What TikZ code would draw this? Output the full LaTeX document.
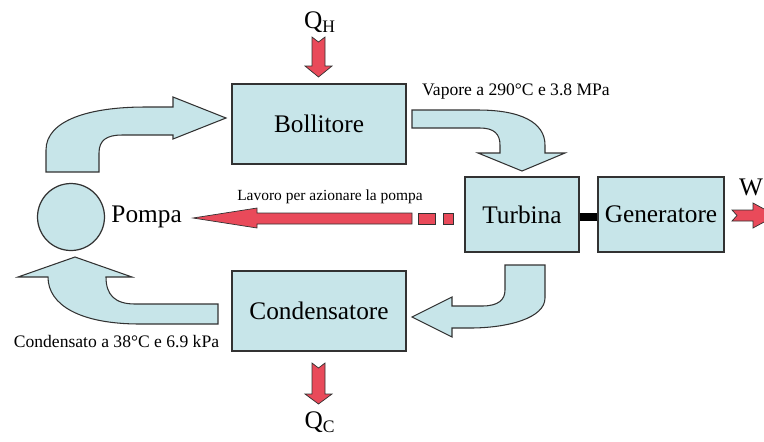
\documentclass[tikz,border=0pt]{standalone}
\usepackage{fontspec}
\setmainfont{Liberation Serif}
\usepackage{xcolor}
\usetikzlibrary{positioning, calc}
\definecolor{CycleBlue}{RGB}{199,229,233}
\definecolor{CycleRed}{RGB}{233,74,90}
\definecolor{CycleEdge}{RGB}{50,50,50}
\tikzset{
    % Node styles
    unitbox/.style={
        rectangle,
        draw=CycleEdge,
        fill=CycleBlue,
        line width=0.7pt,
        minimum width=3.48cm,
        minimum height=1.6cm,
        text centered,
        font=\fontsize{14.4}{17}\selectfont
    },
    pumpnode/.style={
        circle,
        draw=CycleEdge,
        fill=CycleBlue,
        line width=0.7pt,
        minimum size=1.34cm
    },
    biglabel/.style={
        inner sep=0pt,
        font=\fontsize{14.4}{17}\selectfont
    },
    statelabel/.style={
        inner sep=0pt,
        font=\fontsize{10}{12}\selectfont
    },
    % Arrow styles
    flowarrow/.style={
        draw=CycleEdge,
        fill=CycleBlue,
        line width=0.6pt,
        line join=miter
    },
    heatarrow/.style={
        draw=CycleEdge,
        fill=CycleRed,
        line width=0.4pt,
        line join=miter
    },
    shaftbar/.style={
        draw=black,
        line width=4.5pt
    }
}
\begin{document}
\begin{tikzpicture}[x=0.02cm, y=-0.02cm]
    \clip (0,0) rectangle (764,441);

    \node[unitbox] (boil) at (319,124) {Bollitore};
    \node[unitbox] (cond) at (319,311) {Condensatore};
    \node[unitbox, minimum width=2.28cm, minimum height=1.5cm] (turb) at (522,214.5) {Turbina};
    \node[unitbox, minimum width=2.52cm, minimum height=1.5cm] (gen) at (661,214.5) {Generatore};
    \node[pumpnode] (pump) at (71,217) {};
    \node[biglabel, right=0.12cm of pump] (pompa) {Pompa};

    \node[biglabel] (qh) at (320,22) {Q\textsubscript{H}};
    \node[biglabel] (qc) at (320,422) {Q\textsubscript{C}};
    \node[biglabel] (w) at (751,187) {W};

    \node[statelabel] (vap) at (516,92) {Vapore a 290°C e 3.8 MPa};
    \node[statelabel] (con) at (116.5,342) {Condensato a 38°C e 6.9 kPa};
    \node[statelabel, font=\fontsize{8.8}{10}\selectfont] (lav) at (330,197) {Lavoro per azionare la pompa};

    \draw[shaftbar] ([yshift=-0.05cm]turb.east) -- ([yshift=-0.05cm]gen.west);

    % pompa -> bollitore
    \draw[flowarrow] (46,172) -- (46,150) .. controls (46,120) and (90,107) .. (145,107)
        -- (173,107) -- (173,97) -- (226,118) -- (173,139) -- (173,135) -- (122,135)
        .. controls (107,135) and (99,140) .. (99,153) -- (99,172) -- cycle;
    % bollitore -> turbina
    \draw[flowarrow] (412,110) -- (478,110) .. controls (520,110) and (545,122) .. (545,145)
        -- (545,153) -- (565,153) -- (522,171) -- (478,153) -- (500,153) -- (500,145)
        .. controls (500,134) and (494,128) .. (480,128) -- (412,128) -- cycle;
    % turbina -> condensatore
    \draw[flowarrow] (505,265) -- (545,265) -- (545,298) .. controls (545,318) and (508,328) .. (470,328)
        -- (452,328) -- (452,337) -- (412,317) -- (452,297) -- (452,306) -- (482,306)
        .. controls (498,306) and (505,300) .. (505,290) -- cycle;
    % condensatore -> pompa
    \draw[flowarrow] (218,304) -- (218,324) -- (140,324) .. controls (80,324) and (48,305) .. (48,277)
        -- (18,277) -- (75,257) -- (132,277) -- (106,277) .. controls (106,295) and (115,304) .. (135,304)
        -- cycle;

    % heat and work
    \draw[heatarrow] (312,37) -- (318.5,42) -- (325,37) -- (325,66) -- (332,66) -- (318.5,77)
        -- (305,66) -- (312,66) -- cycle;
    \draw[heatarrow] (312,363) -- (318.5,368) -- (325,363) -- (325,394) -- (332,394) -- (318.5,404)
        -- (305,394) -- (312,394) -- cycle;
    \draw[heatarrow] (732,210) -- (753,210) -- (753,203) -- (776,215.5) -- (753,228) -- (753,221)
        -- (732,221) -- (737,215.5) -- cycle;
    \draw[heatarrow] (412,213) -- (257,213) -- (257,208) -- (193,218) -- (257,228) -- (257,224)
        -- (412,224) -- cycle;
    \draw[heatarrow] (418,213) rectangle (435,224);
    \draw[heatarrow] (443,213) rectangle (453,224);
\end{tikzpicture}
\end{document}
